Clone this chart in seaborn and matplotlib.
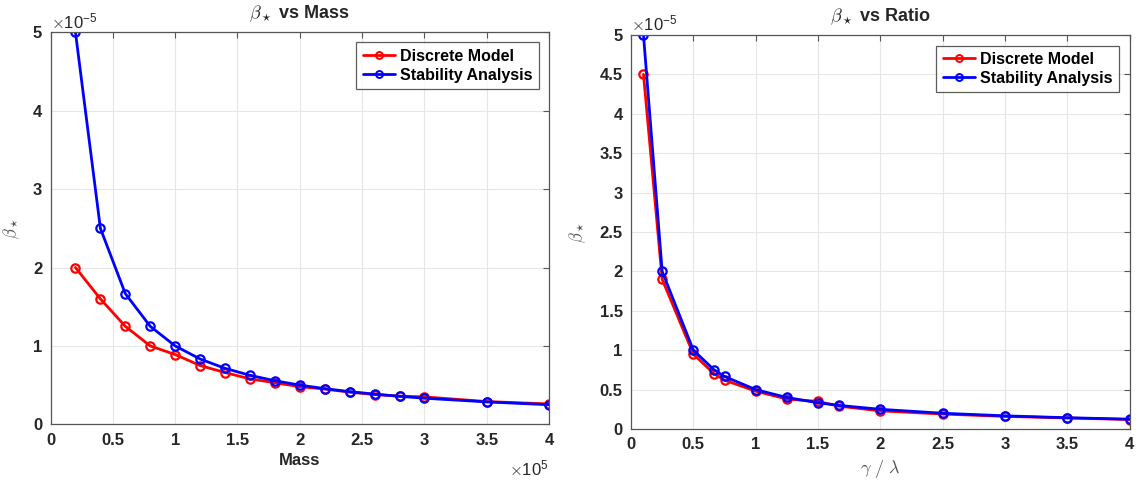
import numpy as np
import pandas as pd
import matplotlib
matplotlib.use("Agg")
import matplotlib.pyplot as plt
import seaborn as sns

# Left panel: beta vs Mass (x in 1e5, y in 1e-5)
mass = [0.2, 0.4, 0.6, 0.8, 1.0, 1.2, 1.4, 1.6, 1.8, 2.0, 2.2, 2.4, 2.6, 2.8, 3.0, 3.5, 4.0]
mass_discrete = [2.0, 1.6, 1.25, 1.0, 0.89, 0.75, 0.66, 0.58, 0.53, 0.48, 0.45, 0.41, 0.38, 0.36, 0.35, 0.29, 0.26]
mass_stability = [5.0, 2.5, 1.667, 1.25, 1.0, 0.833, 0.714, 0.625, 0.556, 0.5, 0.455, 0.417, 0.385, 0.357, 0.333, 0.286, 0.25]

# Right panel: beta vs Ratio (y in 1e-5)
ratio = [0.1, 0.25, 0.5, 0.667, 0.75, 1.0, 1.25, 1.5, 1.667, 2.0, 2.5, 3.0, 3.5, 4.0]
ratio_discrete = [4.5, 1.9, 0.95, 0.70, 0.62, 0.48, 0.38, 0.35, 0.29, 0.23, 0.19, 0.16, 0.14, 0.12]
ratio_stability = [5.0, 2.0, 1.0, 0.75, 0.667, 0.5, 0.4, 0.333, 0.3, 0.25, 0.2, 0.167, 0.143, 0.125]

series_names = ["Discrete Model", "Stability Analysis"]
colors = {"Discrete Model": "#ff0000", "Stability Analysis": "#0000ff"}

left_xticks = [0, 0.5, 1, 1.5, 2, 2.5, 3, 3.5, 4]
left_yticks = [0, 1, 2, 3, 4, 5]
right_xticks = [0, 0.5, 1, 1.5, 2, 2.5, 3, 3.5, 4]
right_yticks = [0, 0.5, 1, 1.5, 2, 2.5, 3, 3.5, 4, 4.5, 5]

sns.set_style("white")
plt.rcParams['font.family'] = ['Liberation Sans', 'DejaVu Sans']
plt.rcParams['mathtext.fontset'] = 'cm'

TXT = "#262626"
LBL = "#555555"

def long_df(x, a, b):
    return pd.DataFrame({
        "x": list(x) * 2,
        "y": list(a) + list(b),
        "series": [series_names[0]] * len(x) + [series_names[1]] * len(x),
    })

fig = plt.figure(figsize=(11.38, 4.8), dpi=100)
ax1 = fig.add_axes([0.0444, 0.1160, 0.4381, 0.8167])
ax2 = fig.add_axes([0.5545, 0.10625, 0.4381, 0.8208])

panels = [
    (ax1, long_df(mass, mass_discrete, mass_stability), left_xticks, left_yticks,
     r"$\beta_\star$ vs Mass", "Mass", (0.98, 0.9745)),
    (ax2, long_df(ratio, ratio_discrete, ratio_stability), right_xticks, right_yticks,
     r"$\beta_\star$ vs Ratio", r"$\gamma\ /\ \lambda$", (0.979, 0.973)),
]

for ax, df, xt, yt, title, xlabel, anchor in panels:
    sns.lineplot(data=df, x="x", y="y", hue="series", palette=colors, ax=ax,
                 marker="o", markersize=6, markerfacecolor="none",
                 markeredgewidth=1.6, linewidth=2, sort=False, legend=True)
    for ln in ax.get_lines():
        ln.set_markerfacecolor("none")
        ln.set_markeredgecolor(ln.get_color())
    ax.set_xlim(0, 4)
    ax.set_ylim(0, 5)
    ax.set_xticks(xt)
    ax.set_yticks(yt)
    ax.set_xticklabels([f"{v:g}" for v in xt], fontsize=12, fontweight="bold", color=TXT)
    ax.set_yticklabels([f"{v:g}" for v in yt], fontsize=12, fontweight="bold", color=TXT)
    ax.grid(True, color="#e6e6e6", linewidth=0.8)
    ax.tick_params(axis="both", direction="in", length=4, color="#555555", width=0.8,
                   top=True, right=True, pad=6)
    for s in ax.spines.values():
        s.set_visible(True)
        s.set_color("#555555")
        s.set_linewidth(0.9)
    ax.set_title(title, fontsize=13, fontweight="bold", color=TXT, pad=10)
    if ax is ax1:
        ax.set_xlabel(xlabel, fontsize=12, fontweight="bold", color=TXT, labelpad=4)
    else:
        ax.set_xlabel(xlabel, fontsize=13, color=LBL, labelpad=4)
    ax.set_ylabel(r"$\beta_\star$", fontsize=12, color=LBL, labelpad=8)
    ax.text(0.0, 1.003, r"$\times\mathregular{10^{-5}}$", transform=ax.transAxes, fontsize=12,
            color=TXT, ha="left", va="bottom")
    leg = ax.legend(loc="upper right", frameon=True, fancybox=False, fontsize=11.5,
                    handlelength=2.0, handletextpad=0.35, borderpad=0.4, labelspacing=0.25,
                    borderaxespad=0.0, bbox_to_anchor=anchor)
    leg.get_frame().set_edgecolor("#333333")
    leg.get_frame().set_linewidth(0.9)
    for t in leg.get_texts():
        t.set_fontweight("bold")
        t.set_color("black")
    for h in leg.legend_handles:
        h.set_marker("o")
        h.set_markerfacecolor("none")
        h.set_markeredgewidth(1.4)
        h.set_markersize(5)
        h.set_linewidth(2)

ax1.text(1.0, -0.112, r"$\times\mathregular{10^{5}}$", transform=ax1.transAxes, fontsize=12,
         color=TXT, ha="right", va="center")

fig.savefig("out.png", dpi=100)
